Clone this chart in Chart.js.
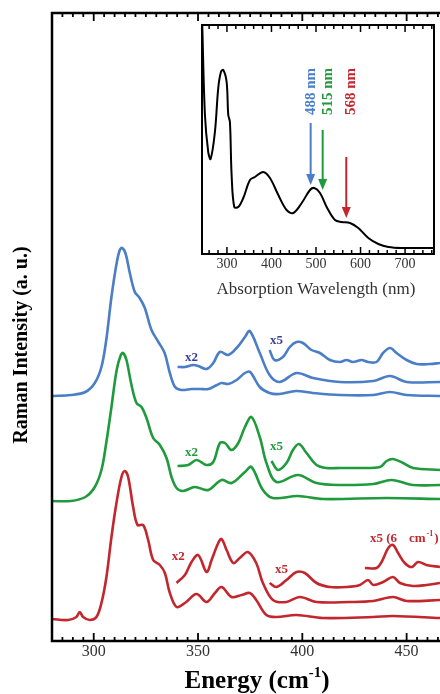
<!DOCTYPE html>
<html>
<head>
<meta charset="utf-8">
<script src="https://cdn.jsdelivr.net/npm/chart.js@4.4.1/dist/chart.umd.min.js"></script>
<style>
  body { margin: 0; background: #fff; }
  #wrap { position: relative; width: 440px; height: 694px; }
  #wrap canvas { position: absolute; }
</style>
</head>
<body>
<div id="wrap">
  <canvas id="ramanChart" width="440" height="694" style="left:0;top:0"></canvas>
  <canvas id="absChart" width="260" height="300" style="left:180px;top:10px"></canvas>
</div>
<script>
// Raman spectra, energy in cm-1 and intensity in a.u. (stacked offsets as drawn)
const blueE = [280, 289, 296, 300.5, 303.7, 306, 308.5, 311, 312.5, 313.6, 315.2, 317.3, 319.7, 322, 324.5, 327.7, 331, 334, 336.5, 339, 342, 347, 351, 355, 359, 361.3, 364.5, 368.5, 372.5, 375, 379.6, 384.3, 389, 397, 405, 418, 434, 442, 450, 466];
const blueI = [245, 246, 249, 258, 274, 301, 344, 378, 391, 393, 388, 368, 349, 343, 333, 311, 299, 288, 268, 254, 251, 252, 252, 252, 256, 258, 257, 261, 268, 269, 254, 248, 247, 250, 248, 246, 246, 249, 246, 245];
const blueX2E = [340.2, 343.7, 347.7, 350.1, 354.1, 357.3, 360.5, 364.5, 368.5, 372.5, 374.8, 379.6, 384.3, 389.1, 397.2, 405.1, 418, 434, 442, 450, 466];
const blueX2I = [274, 274, 276, 275, 272, 278, 289, 286, 293, 304, 310, 288, 266, 259, 268, 263, 259, 260, 265, 259, 259];
const blueX5E = [384.3, 386.7, 390.7, 394, 397.2, 400.3, 404.4, 408.4, 413.2, 418, 421.2, 424.3, 428.4, 431.5, 435.6, 438.7, 442, 445.2, 450, 454.8, 461.2, 466];
const blueX5I = [291, 281, 284, 294, 299, 298, 291, 288, 281, 279, 281, 279, 281, 279, 279, 288, 293, 288, 281, 277, 277, 278];

const greenE = [280, 289, 296, 300.5, 303.7, 306, 308.5, 311, 313, 314.1, 315.7, 318.1, 320.5, 322.9, 325.3, 328.5, 331.7, 334.9, 337.3, 339.7, 342.9, 348.5, 354.9, 361.3, 366.1, 372.5, 375.6, 381.1, 385.9, 397.9, 409.9, 440.4, 466];
const greenI = [140, 140, 144, 154, 171, 198, 234, 271, 286, 288, 281, 256, 238, 234, 223, 203, 196, 183, 164, 153, 150, 154, 151, 161, 158, 169, 174, 151, 143, 145, 142, 143, 142];
const greenX2E = [340.2, 345.3, 349.3, 354.1, 357.3, 360.5, 362.9, 366.1, 369.3, 372.5, 375.6, 379.6, 382.8, 387.6, 397.9, 406.8, 418, 434, 442.8, 453.1, 466];
const greenX2I = [175, 176, 181, 176, 179, 198, 198, 191, 198, 214, 224, 204, 178, 159, 166, 158, 156, 157, 161, 156, 156];
const greenX5E = [385.2, 388.3, 392.4, 395.5, 398.4, 402, 406.8, 411.6, 418, 426, 437.2, 440.4, 443.5, 448.3, 453.1, 466];
const greenX5I = [180, 171, 178, 191, 197, 188, 176, 173, 173, 173, 174, 180, 182, 178, 173, 171];

const redE = [280, 287.7, 291.7, 293.3, 294.9, 298.1, 301.3, 303.7, 306.1, 308.5, 310.9, 313.3, 314.9, 316.5, 318.9, 321, 323.7, 326.1, 328.5, 331.7, 334.1, 336.5, 339.7, 343.7, 349.3, 354.1, 358.1, 361.3, 366.1, 370.9, 374.8, 377.9, 382.8, 387.6, 397.2, 409.9, 434, 443.5, 466];
const redI = [22, 21, 24, 29, 24, 21, 24, 38, 64, 104, 138, 164, 170, 164, 134, 116, 116, 101, 81, 76, 68, 48, 34, 38, 47, 39, 48, 54, 44, 46, 48, 41, 26, 24, 26, 23, 24, 25, 23];
const redX2E = [339.7, 343.7, 346.9, 350.1, 354.1, 356.5, 359.7, 361.3, 363.7, 366.9, 370, 373.9, 377.9, 381.1, 385.9, 392.4, 398.8, 406.8, 422.8, 434, 443.5, 450, 466];
const redX2I = [58, 66, 79, 86, 69, 81, 98, 102, 91, 78, 83, 89, 78, 58, 41, 39, 44, 39, 39, 40, 44, 40, 41];
const redX5E = [384.3, 387.6, 392.4, 397.2, 401.2, 406.8, 413.2, 421.2, 427.6, 431.5, 434, 438.7, 443.5, 446.8, 453.1, 459.5, 466];
const redX5I = [58, 54, 61, 69, 68, 58, 54, 54, 56, 61, 56, 59, 64, 58, 55, 56, 58];
const redX5bE = [430, 435.6, 438, 441.2, 443.5, 445.9, 449.1, 452.4, 455.5, 459.5, 466];
const redX5bI = [73, 73, 79, 93, 96, 88, 78, 74, 79, 76, 74];

const energyTicks = [300, 350, 400, 450];

// inset: absorption spectrum
const absNm = [244.6, 250.6, 258, 263.3, 273, 280.5, 286.5, 291.8, 299.3, 303, 306.7, 310.5, 316.5, 325.5, 336.7, 351.7, 362.9, 381.6, 396.6, 415.4, 434, 449, 467.9, 486.5, 496.2, 509, 524, 542.7, 557.7, 576.4, 595, 617.5, 640, 662.5, 692.6, 765.8];
const absVal = [229, 139, 102, 95, 122, 166, 182, 184, 172, 139, 132, 79, 47, 47, 56, 74, 77, 82, 76, 59, 44, 41, 51, 64, 66, 61, 47, 34, 32, 31, 26, 16, 10, 7, 6, 6];
const laserNm = [488, 515, 568];
const laserLabels = ['488 nm', '515 nm', '568 nm'];
const wavelengthTicks = [300, 400, 500, 600, 700];

const BLUE = '#4a7ec6', GREEN = '#1f9a3d', RED = '#c1272d';
const SERIF = '"Liberation Serif", "Times New Roman", serif';

function trace(es, vals, color) {
  return {
    data: es.map((e, i) => ({ x: e, y: vals[i] })),
    borderColor: color,
    borderWidth: 2.6,
    pointRadius: 0,
    tension: 0.35,
    fill: false
  };
}

// small multiplier tags drawn next to the traces
const tags = [
  { t: 'x2', e: 346.9, i: 283, c: '#3b3f99' },
  { t: 'x5', e: 387.6, i: 300, c: '#3b3f99' },
  { t: 'x2', e: 346.9, i: 188, c: GREEN },
  { t: 'x5', e: 387.6, i: 194, c: GREEN },
  { t: 'x2', e: 340.5, i: 84, c: RED },
  { t: 'x5', e: 390, i: 71, c: RED }
];

const ramanFrame = {
  id: 'ramanFrame',
  afterDraw(chart) {
    const { ctx, chartArea: a, scales: { x, y } } = chart;
    ctx.save();
    ctx.strokeStyle = '#000';
    ctx.lineWidth = 2.5;
    ctx.beginPath();
    ctx.moveTo(a.right + 2, a.top);
    ctx.lineTo(a.left, a.top);
    ctx.lineTo(a.left, a.bottom);
    ctx.lineTo(a.right + 2, a.bottom);
    ctx.stroke();
    // inward ticks, top and bottom
    ctx.lineWidth = 1.8;
    ctx.beginPath();
    for (let v = 285; v <= x.max; v += 5) {
      const px = x.getPixelForValue(v);
      const len = v % 50 === 0 ? 8 : 4;
      ctx.moveTo(px, a.bottom);
      ctx.lineTo(px, a.bottom - len);
      ctx.moveTo(px, a.top);
      ctx.lineTo(px, a.top + len);
    }
    ctx.stroke();
    // tick labels
    ctx.fillStyle = '#333';
    ctx.font = '16px ' + SERIF;
    ctx.textAlign = 'center';
    ctx.textBaseline = 'middle';
    energyTicks.forEach(v => ctx.fillText(String(v), x.getPixelForValue(v), a.bottom + 11));
    // x title with superscript
    ctx.fillStyle = '#000';
    ctx.textAlign = 'left';
    ctx.textBaseline = 'alphabetic';
    ctx.font = 'bold 25px ' + SERIF;
    const p1 = 'Energy (cm', p3 = ')';
    const w1 = ctx.measureText(p1).width, w3 = ctx.measureText(p3).width;
    ctx.font = 'bold 15px ' + SERIF;
    const w2 = ctx.measureText('-1').width;
    let sx = 257 - (w1 + w2 + w3) / 2;
    const base = 688;
    ctx.font = 'bold 25px ' + SERIF;
    ctx.fillText(p1, sx, base);
    ctx.font = 'bold 15px ' + SERIF;
    ctx.fillText('-1', sx + w1, base - 11);
    ctx.font = 'bold 25px ' + SERIF;
    ctx.fillText(p3, sx + w1 + w2, base);
    // y title
    ctx.save();
    ctx.translate(22, 345);
    ctx.rotate(-Math.PI / 2);
    ctx.textAlign = 'center';
    ctx.textBaseline = 'middle';
    ctx.font = 'bold 20px ' + SERIF;
    ctx.fillText('Raman Intensity (a. u.)', 0, 0);
    ctx.restore();
    // tags
    ctx.font = 'bold 13px ' + SERIF;
    ctx.textAlign = 'center';
    ctx.textBaseline = 'middle';
    tags.forEach(g => {
      ctx.fillStyle = g.c;
      ctx.fillText(g.t, x.getPixelForValue(g.e), y.getPixelForValue(g.i));
    });
    // x5 (6 cm-1) tag
    ctx.fillStyle = RED;
    ctx.textAlign = 'left';
    let tx = x.getPixelForValue(432.4);
    const ty = y.getPixelForValue(102);
    ctx.fillText('x5 (6', tx, ty);
    tx += ctx.measureText('x5 (6').width + 12;
    ctx.fillText('cm', tx, ty);
    tx += ctx.measureText('cm').width + 1;
    ctx.font = 'bold 8px ' + SERIF;
    ctx.fillText('-1', tx, ty - 5);
    tx += ctx.measureText('-1').width + 1;
    ctx.font = 'bold 13px ' + SERIF;
    ctx.fillText(')', tx, ty);
    ctx.restore();
  }
};

new Chart(document.getElementById('ramanChart'), {
  type: 'line',
  data: {
    datasets: [
      trace(blueE, blueI, BLUE), trace(blueX2E, blueX2I, BLUE), trace(blueX5E, blueX5I, BLUE),
      trace(greenE, greenI, GREEN), trace(greenX2E, greenX2I, GREEN), trace(greenX5E, greenX5I, GREEN),
      trace(redE, redI, RED), trace(redX2E, redX2I, RED), trace(redX5E, redX5I, RED), trace(redX5bE, redX5bI, RED)
    ]
  },
  options: {
    responsive: false,
    animation: false,
    layout: { padding: { left: 52, top: 13, right: 0, bottom: 53 } },
    plugins: { legend: { display: false }, tooltip: { enabled: false } },
    scales: {
      x: { type: 'linear', min: 280, max: 466, display: false },
      y: { min: 0, max: 628, display: false }
    }
  },
  plugins: [ramanFrame]
});

const insetFrame = {
  id: 'insetFrame',
  beforeDraw(chart) {
    const { ctx, chartArea: a } = chart;
    ctx.save();
    ctx.fillStyle = '#fff';
    ctx.fillRect(a.left, a.top, a.right - a.left, a.bottom - a.top);
    ctx.restore();
  },
  afterDraw(chart) {
    const { ctx, chartArea: a, scales: { x, y } } = chart;
    ctx.save();
    ctx.strokeStyle = '#000';
    ctx.lineWidth = 2;
    ctx.strokeRect(a.left, a.top, a.right - a.left, a.bottom - a.top);
    ctx.lineWidth = 1.5;
    ctx.beginPath();
    for (let v = 260; v < x.max; v += 20) {
      const px = x.getPixelForValue(v);
      const len = v % 100 === 0 ? 7 : 4;
      ctx.moveTo(px, a.bottom);
      ctx.lineTo(px, a.bottom - len);
      ctx.moveTo(px, a.top);
      ctx.lineTo(px, a.top + len);
    }
    ctx.stroke();
    ctx.fillStyle = '#333';
    ctx.font = '14px ' + SERIF;
    ctx.textAlign = 'center';
    ctx.textBaseline = 'middle';
    wavelengthTicks.forEach(v => ctx.fillText(String(v), x.getPixelForValue(v), a.bottom + 10));
    ctx.font = '17px ' + SERIF;
    ctx.fillText('Absorption Wavelength (nm)', x.getPixelForValue(500), a.bottom + 36);
    // laser arrows and labels
    const cols = [BLUE, GREEN, RED];
    const tops = [131, 124, 97], tips = [69, 64, 36];
    const labelNm = [488, 527, 580];
    laserNm.forEach((nm, k) => {
      const px = x.getPixelForValue(nm);
      const y0 = y.getPixelForValue(tops[k]), y1 = y.getPixelForValue(tips[k]);
      ctx.strokeStyle = cols[k];
      ctx.fillStyle = cols[k];
      ctx.lineWidth = 2;
      ctx.beginPath();
      ctx.moveTo(px, y0);
      ctx.lineTo(px, y1 - 9);
      ctx.stroke();
      ctx.beginPath();
      ctx.moveTo(px - 4.5, y1 - 11);
      ctx.lineTo(px + 4.5, y1 - 11);
      ctx.lineTo(px, y1);
      ctx.closePath();
      ctx.fill();
      ctx.save();
      ctx.translate(x.getPixelForValue(labelNm[k]), y.getPixelForValue(139));
      ctx.rotate(-Math.PI / 2);
      ctx.font = 'bold 15px ' + SERIF;
      ctx.textAlign = 'left';
      ctx.textBaseline = 'middle';
      ctx.fillText(laserLabels[k], 0, 0);
      ctx.restore();
    });
    ctx.restore();
  }
};

new Chart(document.getElementById('absChart'), {
  type: 'line',
  data: {
    datasets: [{
      data: absNm.map((nm, i) => ({ x: nm, y: absVal[i] })),
      borderColor: '#000',
      borderWidth: 2,
      pointRadius: 0,
      tension: 0.35,
      fill: false
    }]
  },
  options: {
    responsive: false,
    animation: false,
    layout: { padding: { left: 22, top: 15, right: 6, bottom: 56 } },
    plugins: { legend: { display: false }, tooltip: { enabled: false } },
    scales: {
      x: { type: 'linear', min: 244, max: 765, display: false },
      y: { min: 0, max: 229, display: false }
    }
  },
  plugins: [insetFrame]
});
</script>
</body>
</html>
